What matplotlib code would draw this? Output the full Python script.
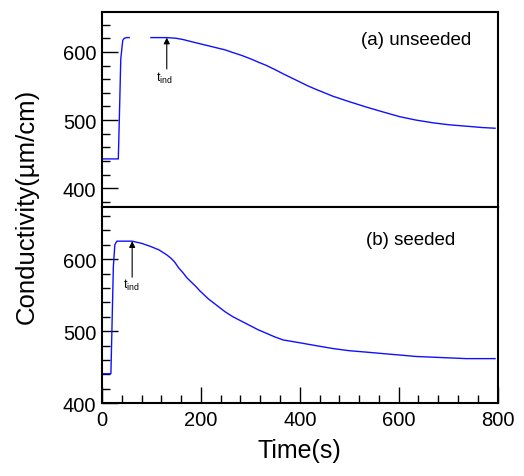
import matplotlib
matplotlib.use("Agg")
import matplotlib.pyplot as plt
import numpy as np
from matplotlib.ticker import MultipleLocator

plt.rcParams['font.family'] = ['Liberation Sans', 'DejaVu Sans']
plt.rcParams['mathtext.fontset'] = 'custom'
plt.rcParams['mathtext.rm'] = 'Liberation Sans'

# (a) unseeded: two segments (gap in recorded data)
a_t1 = [0, 33, 35, 38, 42, 45, 50, 55]
a_v1 = [443, 443, 500, 590, 617, 620, 621, 621]
a_t2 = [99, 131, 150, 165, 181, 198, 215, 232, 249, 265, 282, 300, 316, 333, 350, 366, 383, 400, 417, 433, 450, 467,
        500, 535, 568, 602, 635, 669, 703, 737, 770, 795]
a_v2 = [621, 621, 620, 618, 615, 612, 609, 606, 603, 599, 595, 590, 585, 580, 574, 568, 562, 556, 550, 545, 540, 535,
        527, 519, 512, 505, 500, 496, 493, 491, 489, 488]

# (b) seeded
b_t = [0, 18, 20, 23, 26, 30, 45, 61, 80, 97, 115, 131, 140, 147, 155, 164, 172, 181, 190, 198, 215, 232, 249, 265,
       282, 299, 316, 333, 350, 366, 383, 400, 433, 467, 500, 535, 568, 602, 635, 669, 703, 737, 770, 795]
b_v = [441, 441, 500, 590, 620, 625, 625, 625, 622, 618, 613, 606, 601, 596, 588, 581, 574, 568, 562, 556, 545, 536,
       527, 520, 514, 508, 502, 497, 492, 488, 486, 484, 480, 476, 473, 471, 469, 467, 465, 464, 463, 462, 462, 462]

fig = plt.figure(figsize=(5.24, 4.77), dpi=100)
L, R = 102 / 524, 497.5 / 524
ax1 = fig.add_axes([L, 1 - 208.3 / 477, R - L, (208.3 - 12.7) / 477])
ax2 = fig.add_axes([L, 1 - 404.3 / 477, R - L, (404.3 - 208.3) / 477])

blue = '#1010ff'
ax1.plot(a_t1, a_v1, color=blue, lw=1.0)
ax1.plot(a_t2, a_v2, color=blue, lw=1.0)
ax2.plot(b_t, b_v, color=blue, lw=1.0)

ax1.set_xlim(0, 800)
ax2.set_xlim(0, 800)
ax1.set_ylim(372, 659)
ax2.set_ylim(400, 672)

for ax in (ax1, ax2):
    for s in ax.spines.values():
        s.set_linewidth(1.5)
    ax.yaxis.set_major_locator(MultipleLocator(100))
    ax.yaxis.set_minor_locator(MultipleLocator(20))
    ax.tick_params(axis='y', which='major', direction='in', length=11.5, width=1.0, labelsize=14.5, pad=4,
                   right=False)
    ax.tick_params(axis='y', which='minor', direction='in', length=5.8, width=1.0, right=False)

ax1.tick_params(axis='x', which='both', bottom=False, top=False, labelbottom=False)
ax2.xaxis.set_major_locator(MultipleLocator(200))
ax2.xaxis.set_minor_locator(MultipleLocator(40))
ax2.tick_params(axis='x', which='major', direction='in', length=11.5, width=1.0, labelsize=14.5, pad=5, top=False)
ax2.tick_params(axis='x', which='minor', direction='in', length=5.8, width=1.0, top=False)

ax1.text(0.655, 0.86, '(a) unseeded', transform=ax1.transAxes, fontsize=13.5, va='center', ha='left')
ax2.text(0.668, 0.838, '(b) seeded', transform=ax2.transAxes, fontsize=13.5, va='center', ha='left')

arrow = dict(arrowstyle='-|>', lw=0.8, color='k', mutation_scale=9, shrinkA=0, shrinkB=0)
ax1.annotate('', xy=(131, 621), xytext=(131, 575), arrowprops=arrow)
ax1.text(127, 562, r'$\mathregular{t_{ind}}$', fontsize=9, ha='center', va='center')
ax2.annotate('', xy=(61, 625), xytext=(61, 575), arrowprops=arrow)
ax2.text(59, 565, r'$\mathregular{t_{ind}}$', fontsize=9, ha='center', va='center')

ax2.set_xlabel('Time(s)', fontsize=18, labelpad=6)
fig.text(27 / 524, 1 - 206 / 477, 'Conductivity(\u00b5m/cm)', rotation=90, fontsize=18.5, ha='center', va='center')

fig.savefig('out.png', dpi=100)
